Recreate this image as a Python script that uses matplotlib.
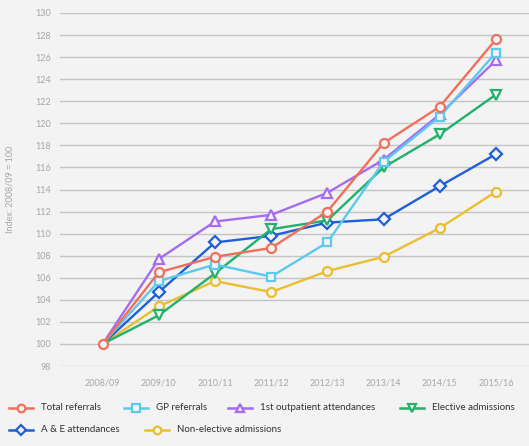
import matplotlib
matplotlib.use("Agg")
import matplotlib.pyplot as plt
from matplotlib.lines import Line2D

# Activity growth indexed to 2008/09 = 100
years = ["2008/09", "2009/10", "2010/11", "2011/12", "2012/13", "2013/14", "2014/15", "2015/16"]

total_referrals = [100.0, 106.5, 107.9, 108.7, 112.0, 118.2, 121.5, 127.6]
gp_referrals = [100.0, 105.7, 107.2, 106.1, 109.2, 116.5, 120.6, 126.4]
outpatient_first = [100.0, 107.7, 111.1, 111.7, 113.7, 116.7, 120.8, 125.7]
elective_admissions = [100.0, 102.6, 106.4, 110.4, 111.2, 116.0, 119.0, 122.6]
ae_attendances = [100.0, 104.7, 109.2, 109.8, 111.0, 111.3, 114.3, 117.2]
non_elective_admissions = [100.0, 103.4, 105.7, 104.7, 106.6, 107.9, 110.5, 113.8]

series_names = ["Total referrals", "GP referrals", "1st outpatient attendances",
                "Elective admissions", "A & E attendances", "Non-elective admissions"]
series_values = [total_referrals, gp_referrals, outpatient_first,
                 elective_admissions, ae_attendances, non_elective_admissions]
colors = ["#F0705A", "#5CC9EE", "#A46CF2", "#22B06C", "#1F5FD8", "#E9BF2F"]
markers = ["o", "s", "^", "v", "D", "o"]

y_ticks = list(range(98, 131, 2))

BG = "#F3F3F3"
GRID = "#C4C4C4"
TICK = "#A6A6A6"
TEXT = "#333333"

plt.rcParams["font.family"] = ["Lato", "DejaVu Sans"]

W, H = 529, 446
fig = plt.figure(figsize=(W / 100, H / 100), dpi=100, facecolor=BG)
ax = fig.add_axes([60 / W, 1 - 366 / H, (W - 60) / W, (366 - 13) / H], facecolor=BG)

x = list(range(len(years)))
# draw from the back; only the first series marks the shared base-year point
for i, (name, vals, c, m) in reversed(list(enumerate(zip(series_names, series_values, colors, markers)))):
    ms = 6.5 if m in ("o", "D") else 6.8
    if m == "s":
        ms = 6.0
    every = None if i == 0 else list(range(1, len(x)))
    ax.plot(x, vals, color=c, lw=1.7, marker=m, ms=ms, mfc=BG, mec=c, mew=1.6,
            markevery=every, zorder=3, clip_on=False)

ax.set_xlim(-0.76, 7.59)
ax.set_ylim(98, 130)
ax.set_yticks(y_ticks)
ax.set_xticks(x)
ax.set_xticklabels(years)
ax.grid(axis="y", color=GRID, lw=1.0, zorder=0)
ax.grid(axis="x", visible=False)
for s in ax.spines.values():
    s.set_visible(False)
ax.tick_params(axis="both", length=0, colors=TICK, labelsize=6.5)
ax.tick_params(axis="y", pad=6.5)
ax.tick_params(axis="x", pad=9)
ax.set_ylabel("Index: 2008/09 = 100", color=TICK, fontsize=6.5)
ax.yaxis.set_label_coords(-0.098, 0.5)

# legend laid out as two flowing rows beneath the chart
legend_pos = [(41, 408), (156, 408), (260, 408), (432, 408), (41, 430), (177, 430)]
for (tx, ty), name, c, m in zip(legend_pos, series_names, colors, markers):
    yf = 1 - ty / H
    x0 = (tx - 32) / W
    x1 = (tx - 8) / W
    fig.add_artist(Line2D([x0, x1], [yf, yf], transform=fig.transFigure,
                          color=c, lw=1.8))
    fig.add_artist(Line2D([(x0 + x1) / 2], [yf], transform=fig.transFigure,
                          color=c, marker=m, ms=5.5, mfc=BG, mec=c, mew=1.6, lw=0))
    fig.text(tx / W, yf, name, color=TEXT, fontsize=7, va="center", ha="left")

fig.savefig("out.png", dpi=100, facecolor=BG)
